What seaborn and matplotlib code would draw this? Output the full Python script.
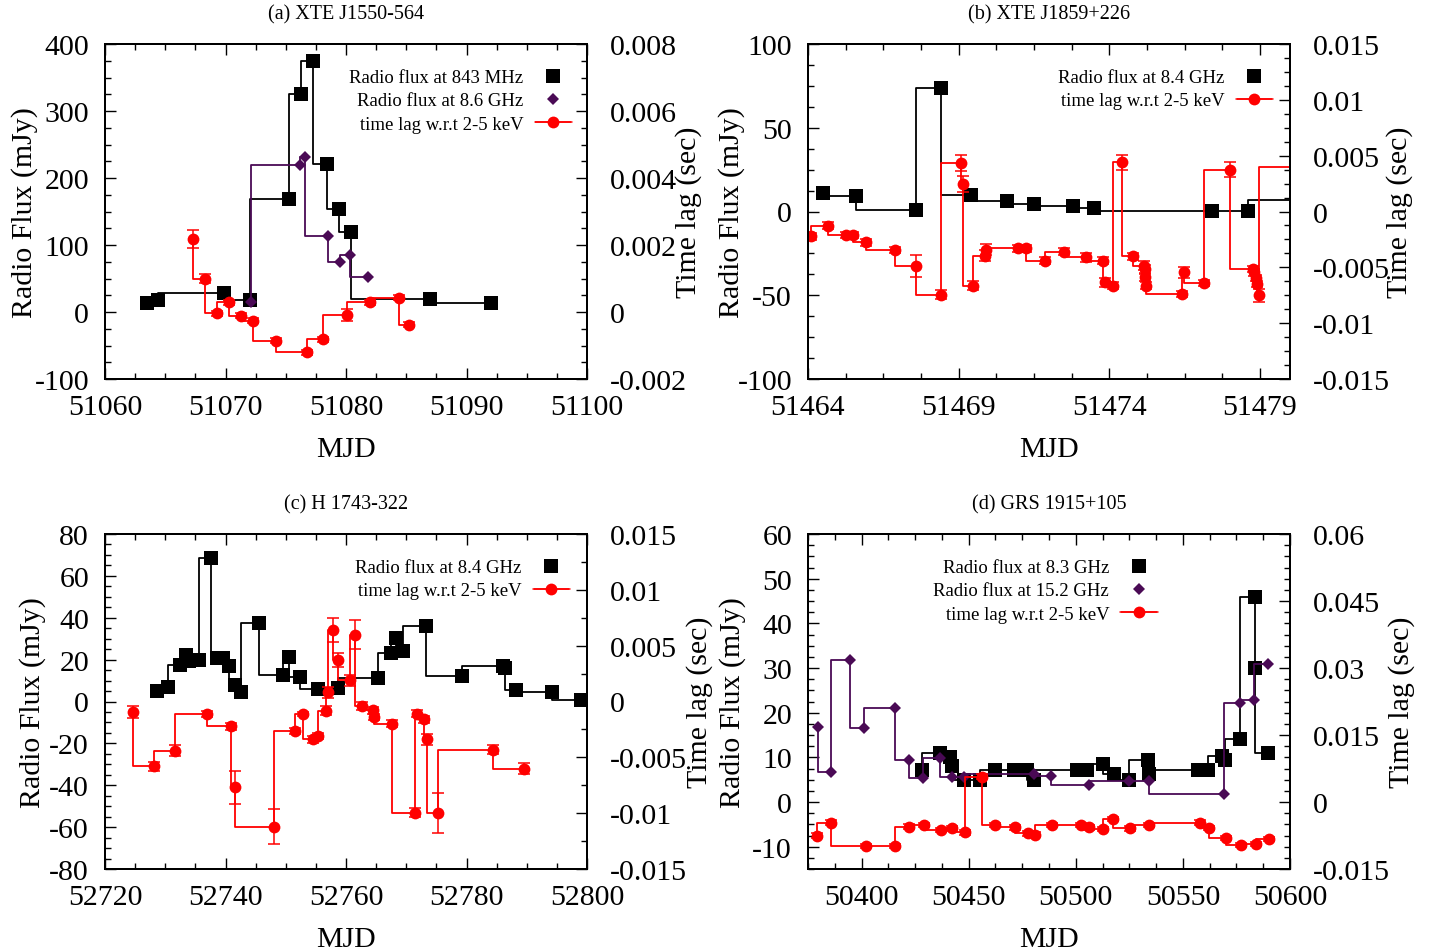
import numpy as np
import matplotlib
matplotlib.use('Agg')
import matplotlib.pyplot as plt
from matplotlib.lines import Line2D
from matplotlib.container import ErrorbarContainer
from matplotlib.legend_handler import HandlerErrorbar
from matplotlib.ticker import MultipleLocator, FuncFormatter
import seaborn as sns

# (a) XTE J1550-564
a_843_mjd = [51063.5, 51064.4, 51069.9, 51072.0, 51075.3, 51076.3, 51077.3, 51078.4, 51079.4, 51080.4, 51087.0, 51092.0]
a_843_flux = [13, 18, 28, 18, 169, 325, 375, 221, 153, 120, 19, 14]
a_86_mjd = [51072.1, 51076.2, 51076.6, 51078.5, 51079.5, 51080.3, 51081.8]
a_86_flux = [15, 219, 232, 114, 75, 85, 52]
a_lag_mjd = [51067.3, 51068.3, 51069.3, 51070.3, 51071.3, 51072.3, 51074.2, 51076.8, 51078.1, 51080.1, 51082.0, 51084.4, 51085.2]
a_lag = [0.00218, 0.0010, -0.00004, 0.00029, -0.00011, -0.00026, -0.00086, -0.0012, -0.00082, -0.00009, 0.00029, 0.00043, -0.00038]
a_lag_err = [0.00027, 0.00012, 0.00008, 0.00008, 0.00008, 0.00008, 0.00008, 0.00008, 0.00008, 0.00018, 0.00008, 0.00008, 0.00008]

# (b) XTE J1859+226
b_84_mjd = [51464.5, 51465.6, 51467.6, 51468.4, 51469.4, 51470.6, 51471.5, 51472.8, 51473.5, 51477.4, 51478.6, 51480.6]
b_84_flux = [11, 9, 1, 74, 10, 6, 4.5, 3, 2, 0.5, 0.5, 7]
b_lag_mjd = [51464.11, 51464.66, 51465.27, 51465.50, 51465.92, 51466.90, 51467.58, 51468.43, 51469.09, 51469.15,
             51469.48, 51469.88, 51469.90, 51470.98, 51471.23, 51471.87, 51472.49, 51473.22, 51473.80, 51473.86,
             51474.11, 51474.41, 51474.80, 51475.15, 51475.18, 51475.20, 51475.22, 51476.43, 51476.48, 51477.15,
             51478.01, 51478.78, 51478.82, 51478.88, 51478.92, 51478.97, 51480.6]
b_lag = [-0.00222, -0.00128, -0.0021, -0.0021, -0.00276, -0.00345, -0.0049, -0.00746, 0.00435, 0.00246,
         -0.00665, -0.00396, -0.00342, -0.0033, -0.0033, -0.0044, -0.0036, -0.0041, -0.0044, -0.00635,
         -0.00665, 0.0044, -0.0040, -0.00485, -0.00515, -0.0059, -0.00665, -0.0074, -0.00545, -0.0064,
         0.00375, -0.00515, -0.00545, -0.00595, -0.0065, -0.0075, 0.004]
b_lag_err = [0.0003, 0.0003, 0.0003, 0.0003, 0.0003, 0.0003, 0.001, 0.0004, 0.00075, 0.0007,
             0.0004, 0.0005, 0.0005, 0.0003, 0.0003, 0.0003, 0.0003, 0.0004, 0.0003, 0.0004,
             0.0003, 0.0007, 0.0003, 0.0004, 0.0004, 0.0003, 0.0003, 0.0003, 0.0005, 0.0003,
             0.0007, 0.0003, 0.0003, 0.0003, 0.0003, 0.0006, 0.0003]

# (c) H 1743-322
c_84_mjd = [52728.7, 52730.5, 52732.5, 52733.4, 52734.0, 52735.6, 52737.6, 52738.6, 52739.6, 52740.5,
            52741.6, 52742.5, 52745.5, 52749.5, 52750.6, 52752.4, 52755.3, 52758.6, 52765.3, 52767.5,
            52768.3, 52769.5, 52773.3, 52779.3, 52786.0, 52786.4, 52788.2, 52794.2, 52799.0]
c_84_flux = [4.8, 6.8, 17.4, 22.2, 19.5, 20, 68.4, 21, 21, 16.8,
             7.9, 4.4, 37.3, 12.6, 21.1, 11.5, 6, 6.3, 11.2, 23,
             30.2, 24.3, 35.9, 12.3, 16.8, 15.8, 5.6, 4.4, 0.9]
c_lag_mjd = [52724.7, 52728.2, 52731.7, 52737.0, 52740.9, 52741.6, 52748.1, 52751.6, 52752.8, 52754.6,
             52755.4, 52756.7, 52757.0, 52757.8, 52758.7, 52760.6, 52761.5, 52762.6, 52764.5, 52764.7,
             52767.6, 52771.4, 52771.8, 52773.0, 52773.5, 52775.2, 52784.4, 52789.5]
c_lag = [-0.00092, -0.0058, -0.0044, -0.00113, -0.00223, -0.0077, -0.0112, -0.00264, -0.00113, -0.0034,
         -0.0031, -0.00083, 0.00083, 0.0064, 0.0037, 0.0019, 0.0060, -0.0004, -0.0008, -0.0014,
         -0.002, -0.00995, -0.0011, -0.0016, -0.0034, -0.00995, -0.0043, -0.006]
c_lag_err = [0.00054, 0.0004, 0.0005, 0.0003, 0.0003, 0.0015, 0.0016, 0.0003, 0.0002, 0.0003,
             0.0003, 0.0004, 0.0005, 0.0011, 0.0006, 0.0005, 0.0013, 0.0004, 0.0003, 0.0003,
             0.0003, 0.0004, 0.0003, 0.0003, 0.0005, 0.0018, 0.0004, 0.0005]

# (d) GRS 1915+105
d_83_mjd = [50428.1, 50436.4, 50441.5, 50442.2, 50448.0, 50455.2, 50462.2, 50471.1, 50477.3, 50480.5,
            50500.8, 50505.2, 50512.5, 50517.7, 50524.7, 50533.6, 50534.0, 50557.0, 50561.7, 50568.3,
            50569.5, 50576.6, 50583.6, 50583.6, 50589.8]
d_83_flux = [7.2, 11.0, 10.0, 8.0, 5, 5, 7.2, 7.2, 7.2, 5,
             7.2, 7.2, 8.4, 6.3, 5, 9.3, 6.3, 7.2, 7.2, 10.2,
             9.3, 14.1, 46, 30.1, 11]
d_152_mjd = [50379.7, 50385.6, 50394.5, 50401.3, 50415.6, 50422.3, 50428.6, 50436.7, 50442.2, 50448.0,
             50480.5, 50488.3, 50506.4, 50524.7, 50534.4, 50569.2, 50576.6, 50583.3, 50589.8]
d_152_flux = [16.7, 6.8, 31.9, 16.6, 21.1, 9.4, 5.3, 9.8, 5.7, 5.7,
              6.3, 5.9, 3.8, 4.8, 4.6, 1.9, 22.2, 22.8, 30.9]
d_lag_mjd = [50379.2, 50385.6, 50401.9, 50415.6, 50422.3, 50429.2, 50437.0, 50442.2, 50448.4, 50456.3,
             50462.2, 50471.4, 50477.8, 50480.9, 50489.0, 50502.3, 50506.4, 50512.8, 50517.5, 50525.3,
             50534.4, 50557.8, 50562.0, 50570.0, 50577.3, 50583.9, 50590.3]
d_lag = [-0.0075, -0.0046, -0.0099, -0.0099, -0.0055, -0.0051, -0.0063, -0.0059, -0.0068, 0.0057,
         -0.0052, -0.0057, -0.0070, -0.0073, -0.0052, -0.0051, -0.0057, -0.0060, -0.0038, -0.0059,
         -0.0051, -0.0046, -0.0058, -0.0081, -0.0096, -0.0094, -0.0083]
d_lag_err = [0.0005] * len(d_lag)

sns.set_style('ticks', rc={'axes.edgecolor': 'black', 'xtick.color': 'black', 'ytick.color': 'black',
                           'text.color': 'black', 'axes.labelcolor': 'black'})
plt.rcParams['font.family'] = ['Liberation Serif', 'DejaVu Serif']
plt.rcParams['axes.unicode_minus'] = False
plt.rcParams['axes.linewidth'] = 1.4

PURPLE = '#4a0a55'
RED = '#ff0000'
BIG = 21.5

fig = plt.figure(figsize=(14.31, 9.53), dpi=100)


def gfmt(v, pos):
    v = round(v, 6)
    if v == 0:
        return '0'
    return '%g' % v


def panel(rect, title, flux_sets, lag_mjd, lag, lag_err, xlim, ylim, y2lim,
          xticks, yticks, y2ticks, leg_x, ylab_x, y2lab_x):
    ax = fig.add_axes(rect)
    ax2 = ax.twinx()
    handles, labels = [], []
    for mjd, flux, color, marker, ms, label in flux_sets:
        sns.lineplot(x=mjd, y=flux, ax=ax, color=color, drawstyle='steps-pre', marker=marker,
                     markersize=ms, markeredgecolor=color, markeredgewidth=0, linewidth=1.3,
                     estimator=None, sort=False, errorbar=None)
        handles.append(Line2D([], [], ls='none', marker=marker, color=color, ms=ms, mew=0))
        labels.append(label)
    sns.lineplot(x=lag_mjd, y=lag, ax=ax2, color=RED, drawstyle='steps-pre', marker='o',
                 markersize=8.5, markeredgecolor=RED, markeredgewidth=0, linewidth=1.3,
                 estimator=None, sort=False, errorbar=None)
    ax2.errorbar(lag_mjd, lag, yerr=lag_err, fmt='none', ecolor=RED, elinewidth=1.1,
                 capsize=4, capthick=1.1)
    proxy = ax2.errorbar([np.nan], [np.nan], xerr=[1.0], fmt='-o', color=RED, ms=8.5, mew=0,
                         lw=1.1, capsize=5, capthick=1.1)
    handles.append(proxy)
    labels.append('time lag w.r.t 2-5 keV')

    ax.set_xlim(xlim)
    ax.set_ylim(ylim)
    ax2.set_ylim(y2lim)
    ax.xaxis.set_major_locator(MultipleLocator(xticks[0], offset=xticks[2]))
    ax.xaxis.set_minor_locator(MultipleLocator(xticks[1], offset=xticks[3]))
    ax.yaxis.set_major_locator(MultipleLocator(yticks[0]))
    ax.yaxis.set_minor_locator(MultipleLocator(yticks[1]))
    ax2.yaxis.set_major_locator(MultipleLocator(y2ticks[0]))
    ax2.yaxis.set_minor_locator(MultipleLocator(y2ticks[1]))
    for a in (ax.xaxis, ax.yaxis, ax2.yaxis):
        a.set_major_formatter(FuncFormatter(gfmt))

    ax.tick_params(axis='x', which='both', direction='in', top=True, bottom=True,
                   labelsize=BIG, pad=11)
    ax.tick_params(axis='y', which='both', direction='in', left=True, right=False,
                   labelsize=BIG, pad=11.5)
    ax2.tick_params(axis='y', which='both', direction='in', right=True, left=False,
                    labelsize=BIG, pad=16.5)
    for a in (ax, ax2):
        a.tick_params(which='major', length=8, width=1)
        a.tick_params(which='minor', length=4, width=1)

    ax.set_xlabel('MJD', fontsize=BIG)
    ax.xaxis.set_label_coords(0.5, -0.17)
    ax.set_ylabel('Radio Flux (mJy)', fontsize=BIG)
    ax.yaxis.set_label_coords(ylab_x, 0.5)
    ax2.set_ylabel('Time lag (sec)', fontsize=BIG)
    ax2.yaxis.set_label_coords(y2lab_x, 0.5)
    ax.set_title(title, fontsize=14.5, pad=18.5)

    ax2.legend(handles, labels, loc='upper right', bbox_to_anchor=(leg_x, 0.925),
               bbox_transform=ax.transAxes, frameon=False, markerfirst=False, fontsize=13.5,
               borderpad=0, borderaxespad=0, handlelength=2.0, handletextpad=0.6,
               labelspacing=0.32, numpoints=1,
               handler_map={ErrorbarContainer: HandlerErrorbar(xerr_size=0.95)})
    return ax, ax2


W, H = 1431, 953
def rect(x0, y0, x1, y1):
    return [x0 / W, 1 - y1 / H, (x1 - x0) / W, (y1 - y0) / H]


panel(rect(105, 45, 587, 380), '(a) XTE J1550-564',
      [(a_843_mjd, a_843_flux, 'black', 's', 9.5, 'Radio flux at 843 MHz'),
       (a_86_mjd, a_86_flux, PURPLE, 'D', 6, 'Radio flux at 8.6 GHz')],
      a_lag_mjd, a_lag, a_lag_err, (51060, 51100), (-100, 400), (-0.002, 0.008),
      (10, 2.5, 0, 0), (100, 25), (0.002, 0.0005), 0.969, -0.139, 1.183)

panel(rect(808, 45, 1290, 380), '(b) XTE J1859+226',
      [(b_84_mjd, b_84_flux, 'black', 's', 9.5, 'Radio flux at 8.4 GHz')],
      b_lag_mjd, b_lag, b_lag_err, (51464, 51480), (-100, 100), (-0.015, 0.015),
      (5, 1.25, 4, 0.25), (50, 12.5), (0.005, 0.00125), 0.965, -0.131, 1.199)

panel(rect(105, 535, 587, 870), '(c) H 1743-322',
      [(c_84_mjd, c_84_flux, 'black', 's', 9.5, 'Radio flux at 8.4 GHz')],
      c_lag_mjd, c_lag, c_lag_err, (52720, 52800), (-80, 80), (-0.015, 0.015),
      (20, 5, 0, 0), (20, 5), (0.005, 0.0025), 0.965, -0.122, 1.205)

panel(rect(808, 535, 1290, 870), '(d) GRS 1915+105',
      [(d_83_mjd, d_83_flux, 'black', 's', 9.5, 'Radio flux at 8.3 GHz'),
       (d_152_mjd, d_152_flux, PURPLE, 'D', 6, 'Radio flux at 15.2 GHz')],
      d_lag_mjd, d_lag, d_lag_err, (50375, 50600), (-15, 60), (-0.015, 0.06),
      (50, 12.5, 0, 0), (10, 2.5), (0.015, 0.0025), 0.726, -0.129, 1.203)

fig.savefig('out.png', dpi=100)
